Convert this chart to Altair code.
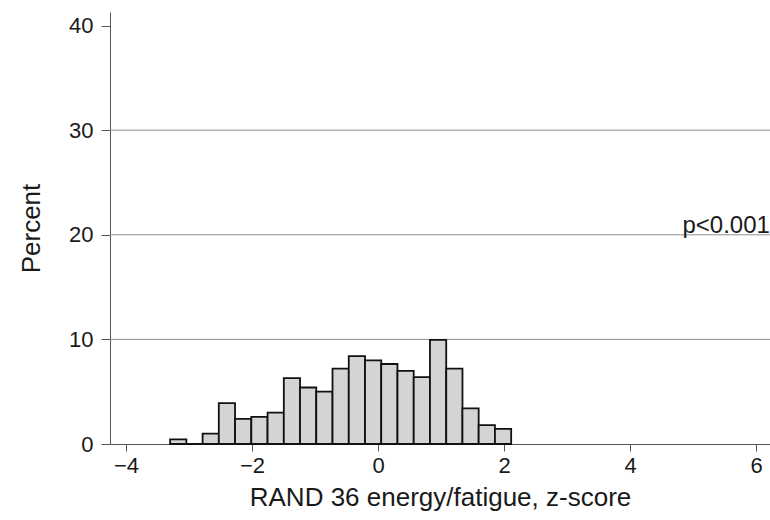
import altair as alt
import pandas as pd

# Histogram bins (left edges, z-score) and bar heights (percent)
bin_start = [-3.300, -3.042, -2.784, -2.527, -2.269, -2.011, -1.753, -1.495,
             -1.238, -0.980, -0.722, -0.464, -0.206, 0.051, 0.309, 0.567,
             0.825, 1.083, 1.340, 1.598, 1.856]
bin_width = 0.2578
percent = [0.45, 0.0, 1.0, 3.9, 2.4, 2.6, 3.0, 6.3, 5.4, 5.0, 7.2, 8.4,
           8.0, 7.65, 7.0, 6.4, 9.95, 7.2, 3.4, 1.8, 1.45]

x_ticks = [-4, -2, 0, 2, 4, 6]
y_ticks = [0, 10, 20, 30, 40]
grid_vals = [10, 20, 30]
annotation = "p<0.001"

bars = pd.DataFrame({
    "start": bin_start,
    "end": [s + bin_width for s in bin_start],
    "pct": percent,
})
grid = pd.DataFrame({"y": grid_vals})
note = pd.DataFrame({"x": [6.22], "y": [20], "t": [annotation]})

FONT = "Liberation Sans"
xdom = [-4.254, 6.222]
ydom = [0, 41.3]

xscale = alt.Scale(domain=xdom, nice=False, zero=False)
yscale = alt.Scale(domain=ydom, nice=False)

grid_layer = alt.Chart(grid).mark_rule(color="#8f8f8f", strokeWidth=1).encode(
    y=alt.Y("y:Q", scale=yscale),
    x=alt.value(0), x2=alt.value(660),
)

bar_layer = alt.Chart(bars).mark_rect(
    fill="#d4d4d4", stroke="#111111", strokeWidth=1.8
).encode(
    x=alt.X("start:Q", scale=xscale,
            axis=alt.Axis(values=x_ticks, format="d",
                          title="RAND 36 energy/fatigue, z-score",
                          grid=False, tickSize=7, labelPadding=4, titlePadding=8,
                          domainColor="#555", tickColor="#555")),
    x2="end:Q",
    y=alt.Y("pct:Q", scale=yscale,
            axis=alt.Axis(values=y_ticks, format="d", title="Percent", grid=False,
                          tickSize=9, labelPadding=8, titlePadding=24,
                          domainColor="#555", tickColor="#555")),
    y2=alt.datum(0),
)

text_layer = alt.Chart(note).mark_text(
    align="right", baseline="alphabetic", dy=-2, font=FONT, fontSize=24,
    color="#1a1a1a"
).encode(
    x=alt.X("x:Q", scale=xscale),
    y=alt.Y("y:Q", scale=yscale),
    text="t:N",
)

chart = alt.layer(grid_layer, bar_layer, text_layer).properties(
    width=660, height=432,
    autosize=alt.AutoSizeParams(type="none"),
    padding={"left": 110, "top": 12, "right": 0, "bottom": 76},
).configure_view(stroke=None).configure_axis(
    labelFont=FONT, titleFont=FONT, labelFontSize=22, titleFontSize=26,
    labelColor="#1a1a1a", titleColor="#1a1a1a", titleFontWeight="normal",
)

chart.save("out.html", embed_options={"renderer": "svg", "actions": False})
